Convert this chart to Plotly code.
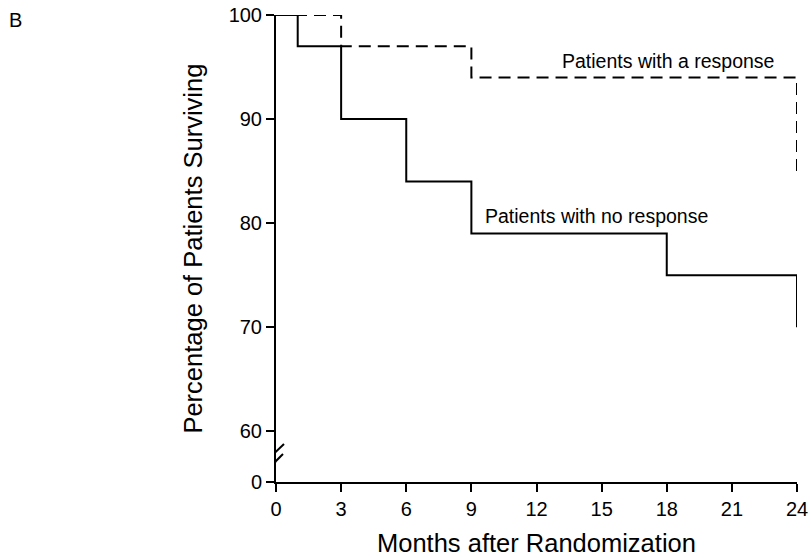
import plotly.graph_objects as go

# Data (Kaplan-Meier style step curves)
months_response = [0, 3, 9, 24, 24]
pct_response = [100, 97, 94, 94, 85]
months_noresp = [0, 1, 3, 6, 9, 18, 24, 24]
pct_noresp = [100, 97, 90, 84, 79, 75, 75, 70]

x_ticks = [0, 3, 6, 9, 12, 15, 18, 21, 24]
y_zero_pos = 55.14  # position of the broken-axis "0" label
y_tickvals = [y_zero_pos, 60, 70, 80, 90, 100]
y_ticktext = ["0", "60", "70", "80", "90", "100"]

FONT = "Liberation Sans, Arial, Helvetica, sans-serif"

fig = go.Figure()
fig.add_trace(go.Scatter(
    x=months_response, y=pct_response, mode="lines",
    line=dict(shape="hv", color="black", width=2, dash="12px,7px"),
    cliponaxis=False, showlegend=False, hoverinfo="skip"))
fig.add_trace(go.Scatter(
    x=months_noresp, y=pct_noresp, mode="lines",
    line=dict(shape="hv", color="black", width=2),
    cliponaxis=False, showlegend=False, hoverinfo="skip"))

fig.update_layout(
    template="none",
    width=811, height=558,
    margin=dict(l=276, r=14, t=15, b=76),
    paper_bgcolor="white", plot_bgcolor="white",
    font=dict(family=FONT, color="black"),
    xaxis=dict(range=[0, 24], tickvals=x_ticks, showline=True, linecolor="black",
               linewidth=2, ticks="outside", ticklen=8, tickwidth=2, tickcolor="black",
               showgrid=False, zeroline=False, automargin=False,
               tickfont=dict(size=20, family=FONT)),
    yaxis=dict(range=[y_zero_pos, 100], tickvals=y_tickvals, ticktext=y_ticktext,
               showline=True, linecolor="black", linewidth=2, ticks="outside",
               ticklen=8, tickwidth=2, tickcolor="black", showgrid=False,
               zeroline=False, automargin=False, tickfont=dict(size=20, family=FONT)),
)

# axis break marks
fig.add_shape(type="rect", xref="x", yref="y", xsizemode="pixel", ysizemode="pixel",
              xanchor=0, yanchor=y_zero_pos, x0=-3, x1=3, y0=21, y1=31,
              fillcolor="white", line=dict(width=0), layer="above")
fig.add_shape(type="line", xref="x", yref="y", xsizemode="pixel", ysizemode="pixel",
              xanchor=0, yanchor=y_zero_pos, x0=-9, y0=22, x1=8, y1=38,
              line=dict(color="black", width=2), layer="above")
fig.add_shape(type="line", xref="x", yref="y", xsizemode="pixel", ysizemode="pixel",
              xanchor=0, yanchor=y_zero_pos, x0=-9, y0=12, x1=7, y1=28,
              line=dict(color="black", width=2), layer="above")

annos = [
    dict(text="Patients with a response", x=13.1, y=95.6, xref="x", yref="y",
         xanchor="left", yanchor="middle", font=dict(size=19.5)),
    dict(text="Patients with no response", x=9.54, y=80.7, xref="x", yref="y",
         xanchor="left", yanchor="middle", font=dict(size=19.5)),
    dict(text="Months after Randomization", x=0.5, y=-0.131, xref="paper", yref="paper",
         xanchor="center", yanchor="middle", font=dict(size=25.5)),
    dict(text="Percentage of Patients Surviving", x=-0.161, y=0.5, xref="paper",
         yref="paper", xanchor="center", yanchor="middle", textangle=-90,
         font=dict(size=25.5)),
    dict(text="B", x=-0.4996, y=0.989, xref="paper", yref="paper",
         xanchor="center", yanchor="middle", font=dict(size=20)),
]
for a in annos:
    fig.add_annotation(showarrow=False, **a)

fig.write_html("out.html")
